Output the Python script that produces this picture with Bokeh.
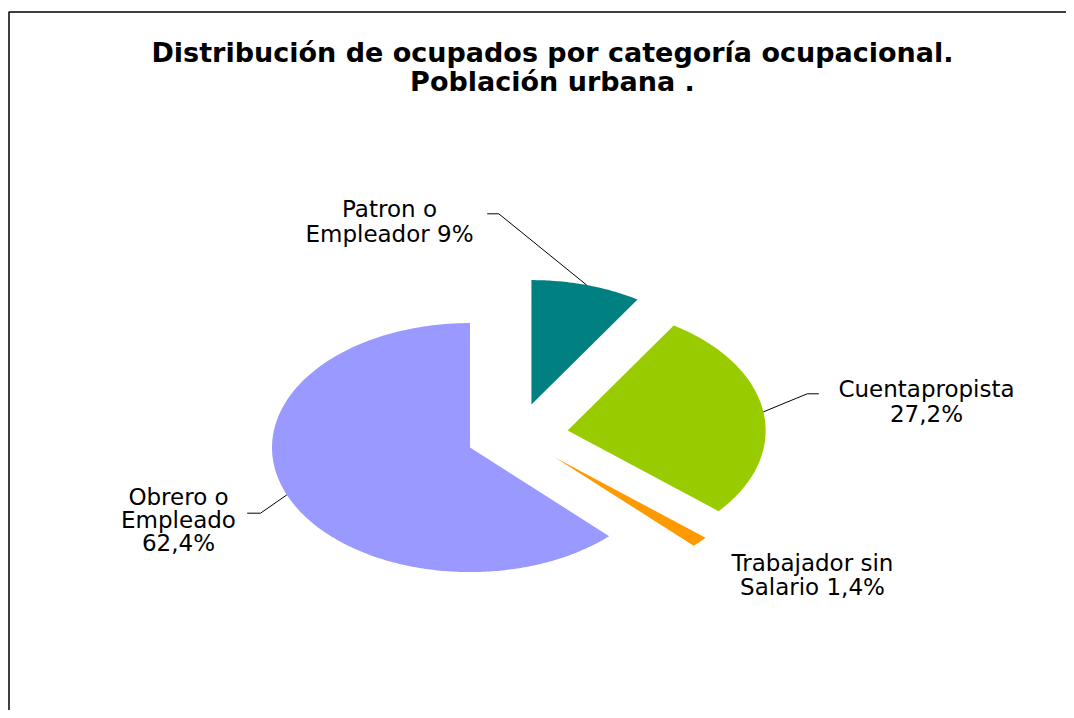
import numpy as np
from bokeh.plotting import figure
from bokeh.models import Range1d
from bokeh.core.properties import value
from bokeh.embed import file_html
from bokeh.resources import INLINE

# ---- data ----
categories = ["Patron o Empleador", "Cuentapropista", "Trabajador sin Salario", "Obrero o Empleado"]
values = [9.0, 27.2, 1.4, 62.4]
colors = ["#008080", "#99CC00", "#FF9900", "#9999FF"]
label_lines = [["Patron o", "Empleador 9%"],
               ["Cuentapropista", "27,2%"],
               ["Trabajador sin", "Salario 1,4%"],
               ["Obrero o", "Empleado", "62,4%"]]
title_lines = ["Distribución de ocupados por categoría ocupacional.", "Población urbana ."]

# ---- layout (image pixel space) ----
CX, CY = 516.7, 434.9      # pie centre
RX, RY = 198.0, 124.5      # ellipse radii (perspective)
EXPLODE = 51.0             # explosion distance
label_pos = [(389, 208.5, 25.0), (926, 388.5, 25.0), (812, 562.7, 24.0), (178, 496.0, 23.3)]
leader_elbows = {0: [(498.3, 213.3), (486.7, 213.3)],
                 1: [(806.7, 393.3), (818.3, 393.3)],
                 3: [(260.0, 512.7), (246.7, 512.7)]}
FONT = "DejaVu Sans"

p = figure(width=1066, height=710, x_range=Range1d(0, 1066), y_range=Range1d(710, 0),
           toolbar_location=None, output_backend="svg", min_border=0,
           x_axis_location=None, y_axis_location=None)
p.grid.visible = False
p.outline_line_color = None
p.background_fill_color = "white"
p.border_fill_color = "white"

# border (frame of original chart)
p.line(x=[8.5, 8.5, 1066], y=[710, 11.5, 11.5], line_color="black", line_width=1.5)

vals = np.array(values)
frac = vals / vals.sum()
ends = np.cumsum(frac) * 2 * np.pi
starts = ends - frac * 2 * np.pi
mids = (starts + ends) / 2

xs, ys, arc_mid = [], [], []
for s, e, m in zip(starts, ends, mids):
    vx = CX + EXPLODE * np.sin(m)
    vy = CY - EXPLODE * (RY / RX) * np.cos(m)
    t = np.linspace(s, e, max(8, int((e - s) * 80)))
    px = vx + RX * np.sin(t)
    py = vy - RY * np.cos(t)
    xs.append([vx] + list(px))
    ys.append([vy] + list(py))
    arc_mid.append((vx + RX * np.sin(m), vy - RY * np.cos(m)))

p.patches(xs=xs, ys=ys, fill_color=colors, line_color=None)

# leader lines
lx, ly = [], []
for i, pts in leader_elbows.items():
    ax_, ay_ = arc_mid[i]
    lx.append([ax_] + [q[0] for q in pts])
    ly.append([ay_] + [q[1] for q in pts])
p.multi_line(xs=lx, ys=ly, line_color="black", line_width=1)

# labels
tx, ty, tt = [], [], []
for (x0, y0, dy), lines in zip(label_pos, label_lines):
    for k, ln in enumerate(lines):
        tx.append(x0)
        ty.append(y0 + k * dy)
        tt.append(ln)
p.text(x=tx, y=ty, text=tt, text_font=value(FONT), text_font_size="23px",
       text_align="center", text_baseline="alphabetic", text_color="black")

# title
p.text(x=[552, 552], y=[52.3, 80.8], text=title_lines, text_font=value(FONT),
       text_font_size="27px", text_font_style="bold",
       text_align="center", text_baseline="alphabetic", text_color="black")

open("out.html", "w").write(file_html(p, INLINE))
